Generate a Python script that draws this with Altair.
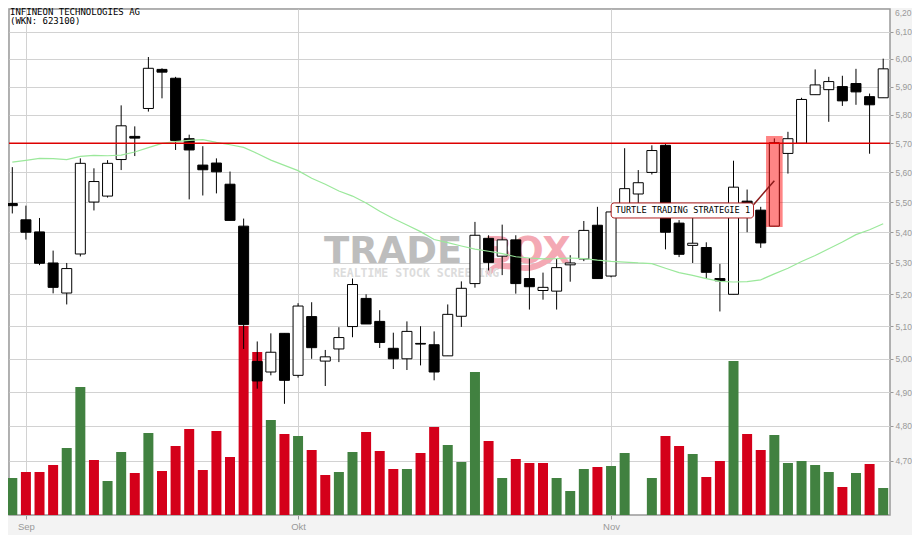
import altair as alt
import pandas as pd

# candles (one entry per trading day)
opens = [5.495, 5.441, 5.401, 5.300, 5.204, 5.329, 5.500, 5.520, 5.644, 5.724,
         5.822, 5.962, 5.930, 5.716, 5.625, 5.632, 5.560, 5.420, 4.992, 4.960,
         5.078, 4.950, 5.130, 4.993, 5.030, 5.099, 5.187, 5.115, 5.032, 5.000,
         5.047, 5.043, 5.009, 5.131, 5.234, 5.380, 5.322, 5.375, 5.250, 5.212,
         5.210, 5.294, 5.313, 5.423, 5.258, 5.480, 5.527, 5.600, 5.693, 5.430,
         5.357, 5.350, 5.250, 5.200, 5.503, 5.473, 5.420, 5.665, 5.700, 5.871,
         5.889, 5.900, 5.911, 5.864, 5.860]
closes = [5.488, 5.400, 5.299, 5.222, 5.282, 5.631, 5.569, 5.631, 5.761, 5.718,
          5.966, 5.952, 5.710, 5.677, 5.609, 5.602, 5.439, 5.105, 4.933, 5.020,
          4.935, 5.163, 5.034, 5.006, 5.065, 5.231, 5.107, 5.050, 5.000, 5.084,
          5.045, 4.960, 5.137, 5.219, 5.390, 5.302, 5.375, 5.234, 5.224, 5.222,
          5.285, 5.300, 5.406, 5.250, 5.467, 5.545, 5.565, 5.675, 5.400, 5.328,
          5.364, 5.270, 5.243, 5.550, 5.470, 5.365, 5.702, 5.716, 5.854, 5.906,
          5.918, 5.849, 5.881, 5.835, 5.964]
highs = [5.618, 5.488, 5.447, 5.340, 5.300, 5.648, 5.614, 5.642, 5.833, 5.759,
         6.007, 5.966, 5.935, 5.730, 5.690, 5.648, 5.603, 5.445, 5.053, 5.078,
         5.078, 5.172, 5.175, 5.027, 5.097, 5.250, 5.200, 5.150, 5.080, 5.115,
         5.100, 5.084, 5.168, 5.241, 5.434, 5.390, 5.425, 5.390, 5.316, 5.269,
         5.313, 5.325, 5.437, 5.484, 5.470, 5.683, 5.608, 5.693, 5.697, 5.440,
         5.450, 5.367, 5.297, 5.640, 5.542, 5.484, 5.717, 5.740, 5.860, 5.962,
         5.935, 5.939, 5.964, 5.875, 6.001]
lows = [5.462, 5.376, 5.293, 5.203, 5.168, 5.321, 5.472, 5.515, 5.608, 5.656,
        5.811, 5.858, 5.677, 5.509, 5.522, 5.529, 5.439, 5.030, 4.910, 4.950,
        4.865, 4.943, 5.000, 4.918, 4.990, 5.066, 5.107, 5.033, 4.969, 4.966,
        4.980, 4.935, 5.009, 5.098, 5.221, 5.276, 5.261, 5.202, 5.152, 5.183,
        5.152, 5.240, 5.306, 5.250, 5.254, 5.470, 5.490, 5.593, 5.344, 5.319,
        5.300, 5.250, 5.146, 5.200, 5.400, 5.349, 5.420, 5.596, 5.700, 5.871,
        5.775, 5.831, 5.835, 5.664, 5.860]
# moving average
average = [5.635, 5.641, 5.648, 5.647, 5.644, 5.655, 5.658, 5.657, 5.659, 5.670,
           5.685, 5.700, 5.706, 5.710, 5.713, 5.703, 5.695, 5.686, 5.665, 5.642,
           5.624, 5.606, 5.580, 5.560, 5.537, 5.520, 5.497, 5.469, 5.445, 5.424,
           5.402, 5.376, 5.366, 5.355, 5.345, 5.338, 5.330, 5.320, 5.316, 5.313,
           5.314, 5.316, 5.314, 5.309, 5.305, 5.303, 5.300, 5.298, 5.283, 5.269,
           5.260, 5.250, 5.241, 5.239, 5.240, 5.246, 5.265, 5.283, 5.305, 5.324,
           5.346, 5.368, 5.392, 5.408, 5.428]
# volume has no scale in the picture, so these are bar heights in relative units
volume = [37, 43, 43, 50, 67, 128, 55, 34, 63, 42, 82, 44, 69, 86, 45, 84, 58, 189,
          163, 95, 81, 79, 65, 40, 43, 63, 83, 64, 46, 46, 62, 88, 70, 53, 143, 74,
          37, 56, 52, 52, 37, 24, 46, 48, 49, 62, 0, 37, 79, 69, 61, 38, 54, 154,
          81, 65, 80, 52, 54, 50, 43, 28, 42, 51, 27]
volume_side = list("grrrggrggrgrrrrrrrrgrgrrggrrrgrrgggrgrrrgggrgg"
                   "ggrrgrrgrrggggg" "rgrg")

y_ticks = [4.7, 4.8, 4.9, 5.0, 5.1, 5.2, 5.3, 5.4, 5.5, 5.6, 5.7, 5.8, 5.9, 6.0, 6.1]
top_tick = "6,20"
month_days = [1, 21, 44]
month_names = ["Sep", "Okt", "Nov"]
resistance = [5.70]
signal_day = 56

# pink swoosh of the logo behind the candles
logo_days = [34.9, 35.8, 37.7, 39.1, 40.2]
logo_prices = [5.265, 5.291, 5.284, 5.303, 5.342]

GRID = "#d2d2d2"
FRAME = "#999999"
GREEN = "#418140"
RED = "#d4001a"
MONO = "DejaVu Sans Mono"

days = list(range(len(opens)))
df = pd.DataFrame({"day": days, "open": opens, "close": closes, "high": highs, "low": lows,
                   "average": average, "volume": volume, "side": volume_side})
df["top"] = df[["open", "close"]].max(axis=1)
df["bottom"] = df[["open", "close"]].min(axis=1)

# padding=0: Vega-Lite otherwise pads a continuous x for bars with a fixed size
x_scale = alt.Scale(domain=[-0.2425, 64.5], nice=False, zero=False, padding=0)
price_scale = alt.Scale(type="log", domain=[4.547, 6.185], nice=False)
month_labels = "{" + ",".join(f"{d}:'{m}'" for d, m in zip(month_days, month_names)) + "}"
x_axis = alt.Axis(values=month_days, labelExpr=f"{month_labels}[datum.value]", title=None,
                  grid=True, gridColor=GRID, gridWidth=1, domain=False, tickColor=FRAME,
                  tickSize=4, labelColor=FRAME, labelFont="Liberation Sans", labelFontSize=9.5,
                  labelPadding=2, labelFlush=False)
y_axis = alt.Axis(values=y_ticks, orient="right", title=None, grid=True, gridColor=GRID,
                  gridWidth=1, domain=False, tickColor=FRAME, tickSize=3, labelColor=FRAME,
                  labelFont="Liberation Sans", labelFontSize=8.5, labelPadding=2,
                  labelOverlap=False, labelFlush=False,
                  labelExpr="replace(format(datum.value, '.2f'), '.', ',')")


def x_at(field):
    return alt.X(field, scale=x_scale, axis=None)


def y_at(field):
    return alt.Y(field, scale=price_scale, axis=None)


def note(day, price, text, **style):
    """Plain text at a day/price position."""
    frame = pd.DataFrame({"day": [day], "price": [price], "text": [text]})
    return alt.Chart(frame).mark_text(align="left", **style).encode(
        x=x_at("day:Q"), y=y_at("price:Q"), text="text:N")


# grids sit in their own first layers so they stay behind the volume bars
month_grid = alt.Chart(pd.DataFrame({"day": month_days})).mark_rule(opacity=0).encode(
    x=alt.X("day:Q", scale=x_scale, axis=x_axis))
price_grid = alt.Chart(pd.DataFrame({"tick": y_ticks})).mark_rule(opacity=0).encode(
    y=alt.Y("tick:Q", scale=price_scale, axis=y_axis))

volume_bars = alt.Chart(df).mark_bar(size=10).encode(
    x=x_at("day:Q"),
    y=alt.Y("volume:Q", scale=alt.Scale(domain=[0, 506], nice=False), axis=None),
    color=alt.Color("side:N", scale=alt.Scale(domain=["g", "r"], range=[GREEN, RED]), legend=None),
)

wm_trade = note(22.9, 5.30, "TRADE", font="DejaVu Sans", fontWeight="bold", fontSize=37,
                color="#bdbdbd", baseline="alphabetic")
wm_box = note(34.66, 5.30, "BOX", font="DejaVu Sans", fontWeight="bold", fontSize=37,
              color="#f4a9b4", baseline="alphabetic")
wm_tag = note(23.56, 5.256, "REALTIME STOCK SCREENING", font=MONO, fontWeight="bold",
              fontSize=11.5, color="#dcdcdc", baseline="alphabetic")
wm_logo = alt.Chart(pd.DataFrame({"day": logo_days, "price": logo_prices})).mark_line(
    color="#f4a9b4", strokeWidth=6, interpolate="monotone").encode(
    x=x_at("day:Q"), y=y_at("price:Q"))

wicks = alt.Chart(df).mark_rule(color="black", strokeWidth=1).encode(
    x=x_at("day:Q"), y=y_at("high:Q"), y2="low:Q")
bodies = alt.Chart(df).mark_bar(size=10, stroke="black", strokeWidth=1).encode(
    x=x_at("day:Q"), y=y_at("top:Q"), y2="bottom:Q",
    color=alt.condition("datum.close < datum.open", alt.value("black"), alt.value("white")),
)
avg_line = alt.Chart(df).mark_line(color="#9be89b", strokeWidth=1.2).encode(
    x=x_at("day:Q"), y=y_at("average:Q"))
level = alt.Chart(pd.DataFrame({"price": resistance})).mark_rule(
    color="#dd0000", strokeWidth=1.5).encode(y=y_at("price:Q"))

highlight = alt.Chart(pd.DataFrame({"a": [signal_day - 0.61], "b": [signal_day + 0.61],
                                    "top": [5.725], "bottom": [5.417]})).mark_rect(
    color="#ff0000", opacity=0.48).encode(
    x=x_at("a:Q"), x2="b:Q", y=y_at("top:Q"), y2="bottom:Q")
connector = alt.Chart(pd.DataFrame({"day": [54.47, signal_day], "price": [5.491, 5.572]})).mark_line(
    color="#8b1a1a", strokeWidth=1.5).encode(x=x_at("day:Q"), y=y_at("price:Q"))
callout_box = alt.Chart(pd.DataFrame({"a": [44.01], "b": [54.47], "top": [5.497], "bottom": [5.447]})).mark_rect(
    fill="white", stroke="#b02020", strokeWidth=1, cornerRadius=3).encode(
    x=x_at("a:Q"), x2="b:Q", y=y_at("top:Q"), y2="bottom:Q")
callout_text = note(44.33, 5.472, "TURTLE TRADING STRATEGIE 1", font=MONO, fontSize=8.6,
                    color="black", baseline="middle")

title_a = alt.Chart(pd.DataFrame({"t": ["INFINEON TECHNOLOGIES AG"]})).mark_text(
    align="left", baseline="middle", font=MONO, fontSize=9, color="black").encode(
    x=alt.value(1), y=alt.value(3), text="t:N")
title_b = alt.Chart(pd.DataFrame({"t": ["(WKN: 623100)"]})).mark_text(
    align="left", baseline="middle", font=MONO, fontSize=9, color="black").encode(
    x=alt.value(1), y=alt.value(12), text="t:N")
top_label = alt.Chart(pd.DataFrame({"t": [top_tick]})).mark_text(
    align="left", baseline="top", font="Liberation Sans", fontSize=8.5, color=FRAME).encode(
    x=alt.value(886), y=alt.value(0), text="t:N")

price_layer = alt.layer(wm_logo, wm_trade, wm_box, wm_tag, wicks, bodies, avg_line, level,
                        highlight, connector, callout_box, callout_text, title_a, title_b, top_label)

chart = alt.layer(month_grid, price_grid, volume_bars, price_layer).resolve_scale(
    x="independent", y="independent", color="independent"
).properties(
    width=881, height=506, background="#f3f3f3",
    autosize=alt.AutoSizeParams(type="none"),
    padding={"left": 1, "top": 1, "right": 22, "bottom": 20},
).configure_view(fill="white", stroke=FRAME, strokeWidth=1.5)

chart.save("out.html", embed_options={"renderer": "svg", "actions": False})
